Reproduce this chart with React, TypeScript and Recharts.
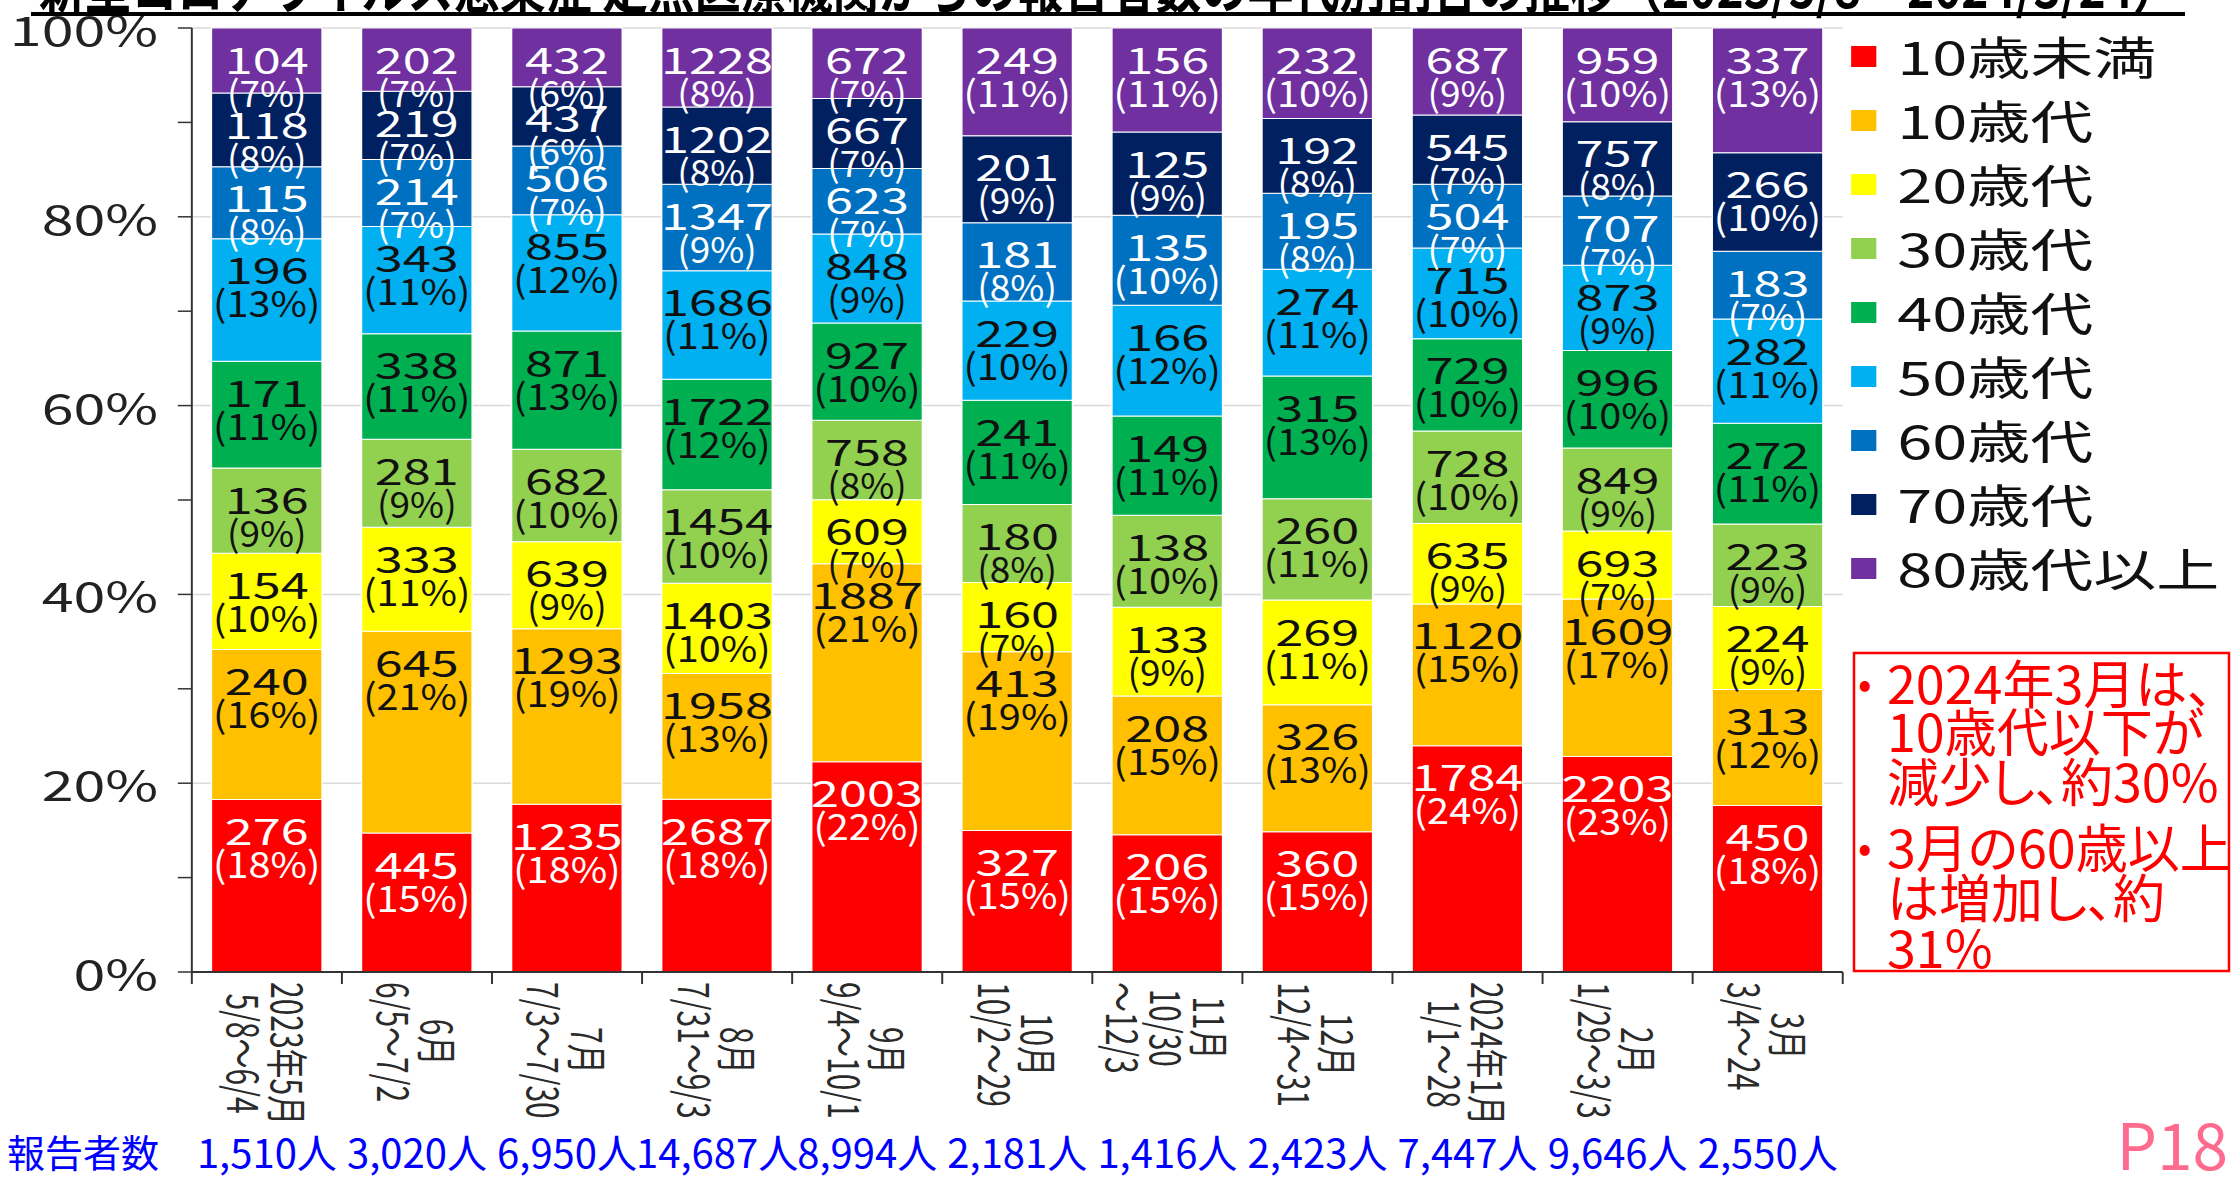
import React from 'react';
import { BarChart, Bar, XAxis, YAxis, CartesianGrid, Legend, LabelList } from 'recharts';

// ---------- data ----------
const categories = [
  '2023年5月\n5/8～6/4',
  '6月\n6/5～7/2',
  '7月\n7/3～7/30',
  '8月\n7/31～9/3',
  '9月\n9/4～10/1',
  '10月\n10/2～29',
  '11月\n10/30\n～12/3',
  '12月\n12/4～31',
  '2024年1月\n1/1～28',
  '2月\n1/29～3/3',
  '3月\n3/4～24',
];
const under10 = [276, 445, 1235, 2687, 2003, 327, 206, 360, 1784, 2203, 450];
const teens = [240, 645, 1293, 1958, 1887, 413, 208, 326, 1120, 1609, 313];
const twenties = [154, 333, 639, 1403, 609, 160, 133, 269, 635, 693, 224];
const thirties = [136, 281, 682, 1454, 758, 180, 138, 260, 728, 849, 223];
const forties = [171, 338, 871, 1722, 927, 241, 149, 315, 729, 996, 272];
const fifties = [196, 343, 855, 1686, 848, 229, 166, 274, 715, 873, 282];
const sixties = [115, 214, 506, 1347, 623, 181, 135, 195, 504, 707, 183];
const seventies = [118, 219, 437, 1202, 667, 201, 125, 192, 545, 757, 266];
const eighties = [104, 202, 432, 1228, 672, 249, 156, 232, 687, 959, 337];
const reportedTotals = [1510, 3020, 6950, 14687, 8994, 2181, 1416, 2423, 7447, 9646, 2550];

const seriesValues = [under10, teens, twenties, thirties, forties, fifties, sixties, seventies, eighties];
const seriesNames = ['10歳未満', '10歳代', '20歳代', '30歳代', '40歳代', '50歳代', '60歳代', '70歳代', '80歳代以上'];
const seriesColors = ['#FF0000', '#FFC000', '#FFFF00', '#92D050', '#00B050', '#00B0F0', '#0070C0', '#002060', '#7030A0'];
const labelColors = ['#ffffff', '#111111', '#111111', '#111111', '#111111', '#111111', '#ffffff', '#ffffff', '#ffffff'];
const yTicks = [0, 0.1, 0.2, 0.3, 0.4, 0.5, 0.6, 0.7, 0.8, 0.9, 1];
const gridValues = [0.2, 0.4, 0.6, 0.8, 1];
const titleText = '新型コロナウイルス感染症 定点医療機関からの報告者数の年代別割合の推移（2023/5/8～2024/3/24）';
const totalsHeader = '報告者数';
const pageLabel = 'P18';
const noteLines = [
  { bullet: true, text: '2024年3月は、' },
  { bullet: false, text: '10歳代以下が' },
  { bullet: false, text: '減少し、約30%' },
  { bullet: true, text: '3月の60歳以上' },
  { bullet: false, text: 'は増加し、約' },
  { bullet: false, text: '31%' },
];

const seriesKeys = seriesNames.map((_, i) => `s${i}`);
const data = categories.map((name, ci) => {
  const row: Record<string, any> = { name, total: reportedTotals[ci] };
  seriesValues.forEach((vals, si) => {
    row[seriesKeys[si]] = vals[ci];
  });
  return row;
});

// ---------- layout ----------
const FONT = "'Noto Sans CJK JP', 'Noto Sans', sans-serif";
const PAGE_W = 2232;
const PAGE_H = 1180;
const STRETCH = 1.4;
const CHART_W = Math.round(PAGE_W / STRETCH);
const SX = PAGE_W / CHART_W;
const MARGIN = { top: 28, right: 278, bottom: 0, left: 0 };
const Y_AXIS_W = 137;
const X_AXIS_H = PAGE_H - 972;
const PLOT_W = CHART_W - MARGIN.left - MARGIN.right - Y_AXIS_W;

let measureCtx: CanvasRenderingContext2D | null = null;
function measure(text: string, size: number): number {
  try {
    if (!measureCtx && typeof document !== 'undefined') {
      measureCtx = document.createElement('canvas').getContext('2d');
    }
    if (measureCtx) {
      measureCtx.font = `${size}px ${FONT}`;
      return measureCtx.measureText(text).width;
    }
  } catch (e) {
    /* ignore */
  }
  return text.length * size * 0.6;
}

const X_FONT = 30;
const X_LINE = 31;
const LABEL_FONT = 36;

const XTick = (props: any) => {
  const { x, y, payload } = props;
  const idx = payload?.index ?? props.index ?? 0;
  const band = props.width && props.visibleTicksCount ? props.width / props.visibleTicksCount : PLOT_W / categories.length;
  const half = band / 2;
  const lines = String(payload.value).split('\n');
  const n = lines.length;
  const maxW = Math.max(...lines.map((l) => measure(l, X_FONT)));
  const total = reportedTotals[idx];
  return (
    <g>
      <line x1={x - half} x2={x - half} y1={y} y2={y + 12} stroke="#333" strokeWidth={1.4} />
      {idx === categories.length - 1 && (
        <line x1={x + half} x2={x + half} y1={y} y2={y + 12} stroke="#333" strokeWidth={1.4} />
      )}
      <g transform={`translate(${x},${y + 10})`}>
        {lines.map((ln, i) => (
          <text
            key={i}
            transform="rotate(90)"
            x={maxW / 2}
            y={(i - (n - 1) / 2) * X_LINE}
            textAnchor="middle"
            dominantBaseline="central"
            fontSize={X_FONT}
            fontFamily={FONT}
            fill="#2a2a2a"
          >
            {ln}
          </text>
        ))}
      </g>
      <text
        transform={`translate(${x},${y + 196}) scale(${1 / SX},1)`}
        textAnchor="middle"
        fontSize={40}
        fontFamily={FONT}
        fill="#0000ff"
      >
        {total.toLocaleString('en-US')}人
      </text>
    </g>
  );
};

const YTick = (props: any) => {
  const { x, y, payload } = props;
  const pct = Math.round(Number(payload.value) * 100);
  if (pct % 20 !== 0) return <g />;
  return (
    <text x={x} y={y} textAnchor="end" dominantBaseline="central" fontSize={41} fontFamily={FONT} fill="#222">
      {pct}%
    </text>
  );
};

const makeLabel = (si: number) => (p: any) => {
  const vb = p.viewBox || p;
  const bx = Number(vb.x ?? p.x);
  const by = Number(vb.y ?? p.y);
  const bw = Number(vb.width ?? p.width);
  const idx = p.index ?? 0;
  const value = Number(p.value);
  const pct = Math.round((value / reportedTotals[idx]) * 100);
  const pctText = `(${pct}%)`;
  const pctLen = (String(pct).length * 0.55 + 1.03) * LABEL_FONT;
  const cx = bx + bw / 2;
  const color = labelColors[si];
  return (
    <g>
      <text x={cx} y={by + 30} textAnchor="middle" dominantBaseline="central" fontSize={LABEL_FONT} fontFamily={FONT} fill={color}>
        {value}
      </text>
      <text
        x={cx}
        y={by + 63}
        textAnchor="middle"
        dominantBaseline="central"
        fontSize={LABEL_FONT}
        fontFamily={FONT}
        fill={color}
        textLength={pctLen}
        lengthAdjust="spacingAndGlyphs"
      >
        {pctText}
      </text>
    </g>
  );
};

const renderLegend = () => (
  <div style={{ display: 'flex', flexDirection: 'column', fontFamily: FONT }}>
    {seriesNames.map((nm, i) => (
      <div key={nm} style={{ height: 64, display: 'flex', alignItems: 'center' }}>
        <span style={{ display: 'inline-block', width: 18, height: 21, background: seriesColors[i], marginRight: 15 }} />
        <span style={{ fontSize: 45, color: '#111', lineHeight: '64px', whiteSpace: 'nowrap' }}>{nm}</span>
      </div>
    ))}
  </div>
);

export default function App() {
  return (
    <div
      style={{
        position: 'absolute',
        left: 0,
        top: 0,
        width: PAGE_W,
        height: PAGE_H,
        overflow: 'hidden',
        background: '#ffffff',
        fontFamily: FONT,
      }}
    >
      <div
        style={{
          position: 'absolute',
          left: 0,
          top: 0,
          width: CHART_W,
          height: PAGE_H,
          transform: `scaleX(${SX})`,
          transformOrigin: '0 0',
        }}
      >
        <BarChart width={CHART_W} height={PAGE_H} data={data} stackOffset="expand" margin={MARGIN} barSize={79}>
          <CartesianGrid vertical={false} horizontalValues={gridValues} stroke="#d9d9d9" strokeWidth={1.5} />
          <XAxis
            dataKey="name"
            height={X_AXIS_H}
            interval={0}
            tickLine={false}
            tickSize={0}
            tickMargin={0}
            axisLine={{ stroke: '#333', strokeWidth: 2 }}
            tick={<XTick />}
          />
          <YAxis
            type="number"
            width={Y_AXIS_W}
            domain={[0, 1]}
            ticks={yTicks}
            interval={0}
            tickSize={10}
            tickMargin={14}
            axisLine={{ stroke: '#333', strokeWidth: 1.4 }}
            tickLine={{ stroke: '#333', strokeWidth: 1.5 }}
            tick={<YTick />}
          />
          <Legend
            layout="vertical"
            align="center"
            verticalAlign="middle"
            content={renderLegend}
            wrapperStyle={{ left: 1322, top: 24, right: 'auto', bottom: 'auto', width: 272, height: 580 }}
          />
          {seriesKeys.map((k, si) => (
            <Bar
              key={k}
              dataKey={k}
              name={seriesNames[si]}
              stackId="a"
              fill={seriesColors[si]}
              stroke="#ffffff"
              strokeWidth={1}
              isAnimationActive={false}
            >
              <LabelList dataKey={k} content={makeLabel(si)} />
            </Bar>
          ))}
        </BarChart>
      </div>

      <svg width={PAGE_W} height={PAGE_H} style={{ position: 'absolute', left: 0, top: 0, pointerEvents: 'none' }}>
        <text
          x={39}
          y={8}
          fontSize={56}
          fontWeight="bold"
          fontFamily={FONT}
          fill="#000"
          textLength={2140}
          lengthAdjust="spacingAndGlyphs"
        >
          {titleText}
        </text>
        <rect x={31} y={12} width={2154} height={4} fill="#000" />

        <text x={7} y={1167} fontSize={38} fontFamily={FONT} fill="#0000ff">
          {totalsHeader}
        </text>
        <text x={2228} y={1170} textAnchor="end" fontSize={64} fontFamily={FONT} fill="#ff6b8f">
          {pageLabel}
        </text>

        <rect x={1854} y={653} width={375} height={318} fill="#ffffff" stroke="#ff0000" strokeWidth={2.5} />
        {noteLines.map((ln, i) => {
          const cy = [681, 729, 779, 845, 895, 945][i];
          return (
            <g key={i}>
              {ln.bullet && (
                <text x={1858} y={cy} dominantBaseline="central" fontSize={40} fontFamily={FONT} fill="#ff0000">
                  •
                </text>
              )}
              <text
                x={1887}
                y={cy}
                dominantBaseline="central"
                fontSize={52}
                fontFamily={FONT}
                fill="#ff0000"
                style={{ fontFeatureSettings: '"palt"' }}
              >
                {ln.text}
              </text>
            </g>
          );
        })}
      </svg>
    </div>
  );
}
